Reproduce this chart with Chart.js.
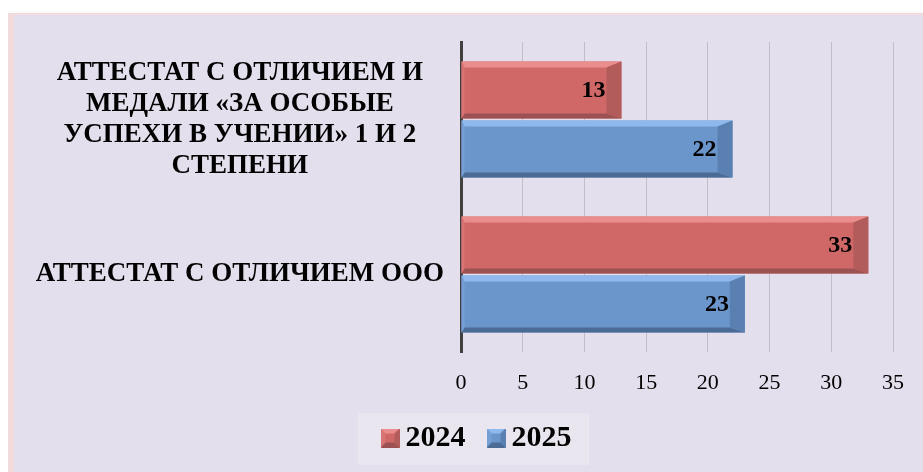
<!DOCTYPE html>
<html><head><meta charset="utf-8">
<script src="https://cdn.jsdelivr.net/npm/chart.js@4.4.1/dist/chart.umd.min.js"></script>
<style>
html,body{margin:0;padding:0;background:#fff;width:923px;height:472px;overflow:hidden;position:relative}
#pink{position:absolute;left:8px;top:13px;right:0;bottom:0;background:#f2dcdb}
#lav{position:absolute;left:14px;top:15px;right:0;bottom:0;background:#e4dfec}
canvas{position:absolute;left:0;top:0}
</style></head><body>
<div id="pink"></div><div id="lav"></div>
<canvas id="c" width="923" height="472"></canvas>
<script>
const categories = [
  ['АТТЕСТАТ С ОТЛИЧИЕМ И', 'МЕДАЛИ «ЗА ОСОБЫЕ', 'УСПЕХИ В УЧЕНИИ» 1 И 2', 'СТЕПЕНИ'],
  'АТТЕСТАТ С ОТЛИЧИЕМ ООО'
];
const seriesNames = ['2024', '2025'];
const values2024 = [13, 33];
const values2025 = [22, 23];
const xTickLabels = ['0', '5', '10', '15', '20', '25', '30', '35'];

const palette = [
  {face: '#d06868', top: '#ec8d8d', bottom: '#9c5252', right: '#b35c5c', left: '#d87474'},
  {face: '#6b96cb', top: '#8fb9ee', bottom: '#4c6b94', right: '#5a80b2', left: '#759fd5'}
];

function poly(ctx, pts, color) {
  ctx.beginPath();
  ctx.moveTo(pts[0][0], pts[0][1]);
  for (let i = 1; i < pts.length; i++) ctx.lineTo(pts[i][0], pts[i][1]);
  ctx.closePath();
  ctx.fillStyle = color;
  ctx.fill();
}
function bevel(ctx, l, t, r, b, c, s) {
  poly(ctx, [[l, t], [r, t], [r - s.rb, t + s.tb], [l + s.lb, t + s.tb]], c.top);
  poly(ctx, [[l, b], [r, b], [r - s.rb, b - s.bb], [l + s.lb, b - s.bb]], c.bottom);
  poly(ctx, [[r, t], [r, b], [r - s.rb, b - s.bb], [r - s.rb, t + s.tb]], c.right);
  poly(ctx, [[l, t], [l, b], [l + s.lb, b - s.bb], [l + s.lb, t + s.tb]], c.left);
}
function markerCanvas(c) {
  const cv = document.createElement('canvas');
  cv.width = 19; cv.height = 19;
  const ctx = cv.getContext('2d');
  ctx.fillStyle = c.face; ctx.fillRect(0, 0, 19, 19);
  bevel(ctx, 0, 0, 19, 19, c, {tb: 5, bb: 5, lb: 5, rb: 5});
  return cv;
}
const markers = palette.map(markerCanvas);

const bevelPlugin = {
  id: 'bevelBars',
  afterDatasetsDraw(chart) {
    const ctx = chart.ctx;
    ctx.save();
    chart.data.datasets.forEach((ds, di) => {
      const meta = chart.getDatasetMeta(di);
      meta.data.forEach((el, i) => {
        const p = el.getProps(['x', 'y', 'base', 'height'], true);
        const l = Math.min(p.base, p.x), r = Math.max(p.base, p.x);
        const t = p.y - p.height / 2, b = p.y + p.height / 2;
        bevel(ctx, l, t, r, b, palette[di], {tb: 6, bb: 5, lb: 3, rb: 15});
        ctx.fillStyle = '#000';
        ctx.font = 'bold 24px "Liberation Serif"';
        ctx.textAlign = 'right';
        ctx.textBaseline = 'middle';
        ctx.fillText(String(ds.data[i]), r - 16, p.y + 1);
      });
    });
    ctx.restore();
  }
};

const legendShift = {
  id: 'legendShift',
  afterLayout(chart) {
    const lg = chart.legend;
    const h = lg.height;
    lg.left += 24; lg.right += 24;
    lg.top = 393; lg.bottom = 393 + h;
  },
  beforeDraw(chart) {
    const ctx = chart.ctx;
    ctx.save();
    ctx.fillStyle = '#e9e6ef';
    ctx.fillRect(358, 413, 231, 52);
    ctx.restore();
  }
};

const chart = new Chart(document.getElementById('c'), {
  type: 'bar',
  data: {
    labels: categories,
    datasets: [
      {label: seriesNames[0], data: values2024, backgroundColor: palette[0].face},
      {label: seriesNames[1], data: values2025, backgroundColor: palette[1].face}
    ]
  },
  options: {
    indexAxis: 'y',
    responsive: false,
    animation: false,
    events: [],
    layout: {padding: {top: 42, right: 30, left: 20, bottom: 0}},
    datasets: {bar: {categoryPercentage: 0.76, barPercentage: 0.97}},
    scales: {
      x: {
        min: 0, max: 35,
        z: 1,
        ticks: {
          stepSize: 5,
          padding: 18,
          color: '#000',
          font: {family: '"Liberation Serif"', size: 22},
          callback: (v, i) => xTickLabels[i]
        },
        grid: {color: 'rgba(0,0,0,0.15)', lineWidth: 1, drawTicks: false},
        border: {display: false},
        afterFit(scale) { scale.height = 50; }
      },
      y: {
        ticks: {
          crossAlign: 'center',
          padding: 17,
          color: '#000',
          font: {family: '"Liberation Serif"', size: 27, weight: 'bold', lineHeight: 1.15}
        },
        grid: {display: true, color: 'rgba(0,0,0,0)', drawTicks: false},
        border: {display: true, color: '#404040', width: 3},
        afterFit(scale) { scale.width = 441; }
      }
    },
    plugins: {
      tooltip: {enabled: false},
      legend: {
        position: 'bottom',
        labels: {
          usePointStyle: true,
          pointStyleWidth: 1,
          boxWidth: 1,
          boxHeight: 19,
          padding: 30,
          color: '#000',
          font: {family: '"Liberation Serif"', size: 30, weight: 'bold'},
          generateLabels: (ch) => ch.data.datasets.map((ds, i) => ({
            text: ds.label, pointStyle: markers[i], fillStyle: palette[i].face,
            strokeStyle: 'rgba(0,0,0,0)', lineWidth: 0, datasetIndex: i, hidden: false
          }))
        }
      }
    }
  },
  plugins: [bevelPlugin, legendShift]
});
</script>
</body></html>
